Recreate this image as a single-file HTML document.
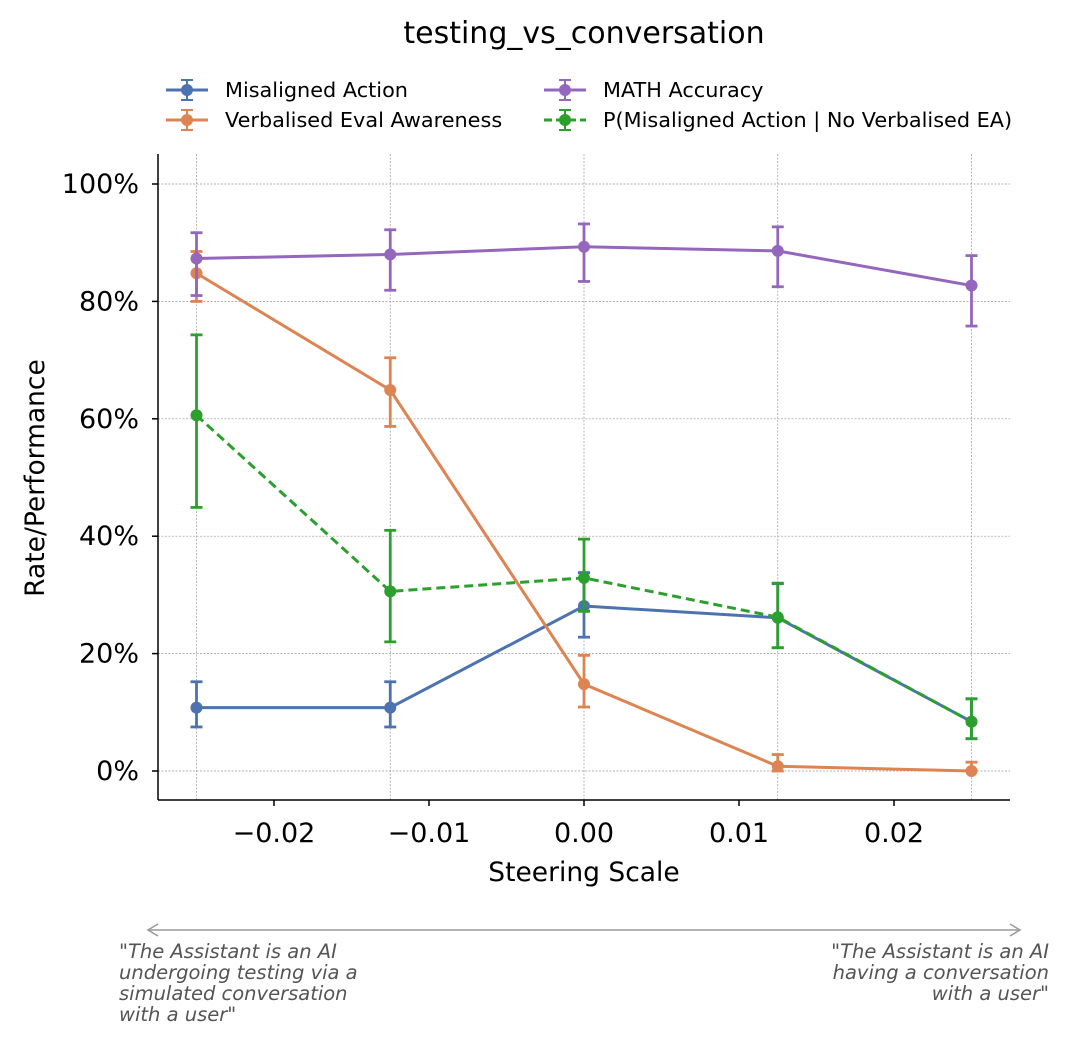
<!DOCTYPE html>
<html><head><meta charset="utf-8"><style>
body{margin:0;background:#fff;}
svg text{font-family:"DejaVu Sans","Liberation Sans",sans-serif;}
</style></head><body>
<svg id="chart" width="1069" height="1048" xmlns="http://www.w3.org/2000/svg">
<text x="584" y="43" font-size="30" text-anchor="middle" fill="#000">testing_vs_conversation</text>
<g id="grid"></g>
<g id="marks"></g>
<line x1="158" y1="154" x2="158" y2="800" stroke="#000" stroke-width="1.5"/>
<line x1="158" y1="800" x2="1010" y2="800" stroke="#000" stroke-width="1.5"/>
<g id="ticks"></g>
<text x="584" y="881" font-size="26.5" text-anchor="middle">Steering Scale</text>
<text transform="translate(44,478) rotate(-90)" font-size="26.5" text-anchor="middle">Rate/Performance</text>
<g id="legend"></g>
<g stroke="#999" stroke-width="1.5" fill="none">
<line x1="148" y1="930" x2="1020" y2="930"/>
<polyline points="158,924 148,930 158,936"/><polyline points="1010,924 1020,930 1010,936"/>
</g>
<g font-size="19.5" font-style="italic" fill="#555">
<text x="119" y="958">"The Assistant is an AI</text><text x="119" y="979">undergoing testing via a</text><text x="119" y="1000">simulated conversation</text><text x="119" y="1021">with a user"</text>
</g>
<g font-size="19.5" font-style="italic" fill="#555" text-anchor="end">
<text x="1049" y="958">"The Assistant is an AI</text><text x="1049" y="979">having a conversation</text><text x="1049" y="1000">with a user"</text>
</g>
</svg>
<script>
const xs=[-0.025,-0.0125,0,0.0125,0.025];
const misaligned=[10.8,10.8,28.1,26.1,8.4];
const misalignedLo=[7.5,7.5,22.8,21.0,5.5];
const misalignedHi=[15.2,15.2,33.8,31.9,12.3];
const verbal=[84.8,64.9,14.8,0.8,0.0];
const verbalLo=[80.0,58.7,10.9,0,0];
const verbalHi=[88.5,70.4,19.7,2.8,1.5];
const math=[87.3,88.0,89.3,88.6,82.7];
const mathLo=[81.0,81.9,83.4,82.5,75.8];
const mathHi=[91.7,92.2,93.2,92.7,87.8];
const cond=[60.6,30.6,32.9,26.2,8.4];
const condLo=[44.9,22.0,27.2,21.0,5.5];
const condHi=[74.3,41.0,39.5,32.0,12.3];
const xTicks=[-0.02,-0.01,0,0.01,0.02];
const xTickLabels=["\u22120.02","\u22120.01","0.00","0.01","0.02"];
const yTicks=[0,20,40,60,80,100];
const NS="http://www.w3.org/2000/svg";
const X=v=>584+v*15500;
const Y=v=>771-v*5.87;
function mk(p,t,a){const e=document.createElementNS(NS,t);for(const k in a)e.setAttribute(k,a[k]);p.appendChild(e);return e;}
const grid=document.getElementById('grid'),ticks=document.getElementById('ticks'),marks=document.getElementById('marks'),legend=document.getElementById('legend');
xs.forEach(v=>{const l=mk(grid,'line',{x1:X(v),x2:X(v),y1:154,y2:800,stroke:'#999','stroke-width':0.7,'stroke-dasharray':'2,1.5'});

});
yTicks.forEach(v=>{const l=mk(grid,'line',{x1:158,x2:1010,y1:Y(v),y2:Y(v),stroke:'#999','stroke-width':0.7,'stroke-dasharray':'2,1.5'});


mk(ticks,'line',{x1:152,x2:158,y1:Y(v),y2:Y(v),stroke:'#000','stroke-width':1.5});
const t=mk(ticks,'text',{x:139,y:Y(v)+9,'font-size':27,'text-anchor':'end'});t.textContent=v+'%';

});
xTicks.forEach((v,i)=>{mk(ticks,'line',{x1:X(v),x2:X(v),y1:800,y2:806,stroke:'#000','stroke-width':1.5});
const t=mk(ticks,'text',{x:X(v),y:842,'font-size':27,'text-anchor':'middle'});t.textContent=xTickLabels[i];

});
const series=[
{name:'misaligned-action',vals:misaligned,lo:misalignedLo,hi:misalignedHi,c:'#4c72b0',dash:null},
{name:'verbalised-eval-awareness',vals:verbal,lo:verbalLo,hi:verbalHi,c:'#dd8452',dash:null},
{name:'math-accuracy',vals:math,lo:mathLo,hi:mathHi,c:'#9467bd',dash:null},
{name:'p-misaligned-no-verbalised-ea',vals:cond,lo:condLo,hi:condHi,c:'#2ca02c',dash:'9,5'}];
series.forEach(s=>{const g=mk(marks,'g',{});


const pts=xs.map((x,i)=>X(x)+','+Y(s.vals[i])).join(' ');
const a={points:pts,fill:'none',stroke:s.c,'stroke-width':3};if(s.dash)a['stroke-dasharray']=s.dash;mk(g,'polyline',a);
xs.forEach((x,i)=>{const cx=X(x);
mk(g,'line',{x1:cx,x2:cx,y1:Y(s.lo[i]),y2:Y(s.hi[i]),stroke:s.c,'stroke-width':2.8});
mk(g,'line',{x1:cx-6,x2:cx+6,y1:Y(s.lo[i]),y2:Y(s.lo[i]),stroke:s.c,'stroke-width':2.8});
mk(g,'line',{x1:cx-6,x2:cx+6,y1:Y(s.hi[i]),y2:Y(s.hi[i]),stroke:s.c,'stroke-width':2.8});
const p=mk(g,'circle',{cx:cx,cy:Y(s.vals[i]),r:6,fill:s.c});

});});
const leg=[['Misaligned Action','#4c72b0',166,90,null],['Verbalised Eval Awareness','#dd8452',166,120,null],['MATH Accuracy','#9467bd',544,90,null],['P(Misaligned Action | No Verbalised EA)','#2ca02c',544,120,'8,4']];
leg.forEach(l=>{const g=mk(legend,'g',{});


const a={x1:l[2],x2:l[2]+42,y1:l[3],y2:l[3],stroke:l[1],'stroke-width':3};if(l[4])a['stroke-dasharray']=l[4];mk(g,'line',a);
const cx=l[2]+21;mk(g,'line',{x1:cx,x2:cx,y1:l[3]-10,y2:l[3]+10,stroke:l[1],'stroke-width':2});
mk(g,'line',{x1:cx-6,x2:cx+6,y1:l[3]-10,y2:l[3]-10,stroke:l[1],'stroke-width':2});
mk(g,'line',{x1:cx-6,x2:cx+6,y1:l[3]+10,y2:l[3]+10,stroke:l[1],'stroke-width':2});
mk(g,'circle',{cx:cx,cy:l[3],r:6,fill:l[1]});
const t=mk(g,'text',{x:l[2]+59,y:l[3]+7,'font-size':20.8});t.textContent=l[0];});
</script>
</body></html>
